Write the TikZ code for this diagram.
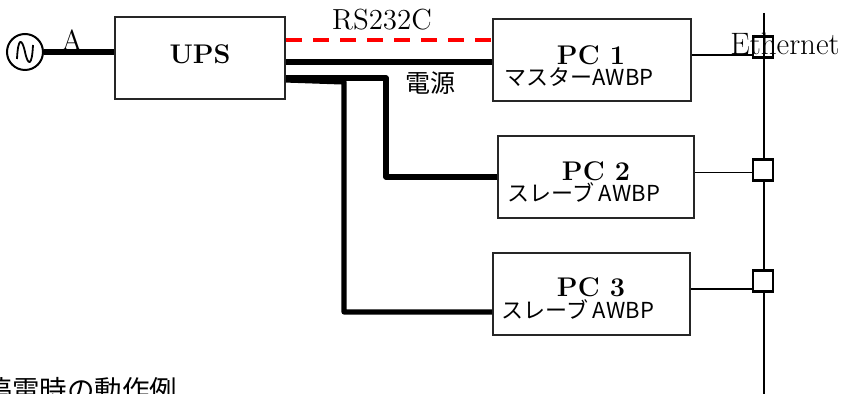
\documentclass[tikz,border=0pt]{standalone}
\usepackage{fontspec}
\newfontfamily\jpfont{Noto Sans CJK JP}
\usepackage{xcolor}
\usepackage{tikz}
\usetikzlibrary{calc}
\definecolor{ured}{HTML}{FF0000}
\tikzset{
  ubox/.style={draw=black!85, line width=1pt, fill=white, inner sep=0pt},
  utitle/.style={font=\fontsize{13.5}{15}\selectfont\bfseries, inner sep=0pt, anchor=base},
  ulbl/.style={font=\fontsize{14.5}{16}\selectfont, inner sep=0pt, anchor=base},
  usub/.style={font=\fontsize{11}{12}\jpfont, inner sep=0pt, anchor=base west},
  ujp/.style={font=\fontsize{12.5}{14}\jpfont, inner sep=0pt},
  upow/.style={line width=2.6pt, line join=round},
  urs/.style={ured, line width=2pt, dash pattern=on 8pt off 5.5pt},
  ulan/.style={line width=0.8pt},
  ubus/.style={line width=1pt},
  utap/.style={draw, line width=1.1pt, minimum width=10pt, minimum height=10.5pt, inner sep=0pt},
}
\begin{document}
\begin{tikzpicture}[x=0.5pt,y=-0.5pt]
  \useasboundingbox (0,0) rectangle (845,394);

  % 交流電源
  \node[circle, draw, line width=1pt, minimum size=18pt, inner sep=0pt] (ac) at (25,52) {};
  \draw[line width=0.9pt] ($(ac)+(-8,7)$) .. controls ($(ac)+(-7,-15)$) and ($(ac)+(-3,-14)$) .. ($(ac)+(0,0)$)
                           .. controls ($(ac)+(3,14)$) and ($(ac)+(7,15)$) .. ($(ac)+(8,-7)$);
  \node[ulbl] (lblA) at (72,51) {A};

  % UPS
  \node[ubox, minimum width=85pt, minimum height=41pt] (ups) at (200,58) {};
  \node[utitle] (upst) at (200,64) {UPS};
  \draw[upow] (ac.east) -- (ac.east -| ups.west);

  % PC
  \node[ubox, minimum width=99pt, minimum height=41pt] (pc1) at (592,60) {};
  \node[ubox, minimum width=98pt, minimum height=41pt] (pc2) at (596,177) {};
  \node[ubox, minimum width=98.5pt, minimum height=41pt] (pc3) at (591.5,294) {};
  \node[utitle] (pc1t) at (591,65) {PC 1};
  \node[usub] (pc1s) at (504,86) {マスターAWBP};
  \node[utitle] (pc2t) at (596,181) {PC 2};
  \node[usub] (pc2s) at (507,202) {スレーブ AWBP};
  \node[utitle] (pc3t) at (591,297) {PC 3};
  \node[usub] (pc3s) at (501,319) {スレーブ AWBP};

  % 電源ライン
  \draw[upow] (ups.east |- 0,62) -- (pc1.west |- 0,62);
  \draw[upow] (ups.east |- 0,78) -- (386,78) |- (pc2.west |- 0,177);
  \draw[upow] (ups.east |- 0,80) -- (344,82) |- (pc3.west |- 0,312);
  \node[ujp] (lblpow) at (430,83) {電源};

  % RS232C
  \draw[urs] (ups.east |- 0,40.5) -- (pc1.west |- 0,40.5);
  \node[ulbl] (lblrs) at (382,30) {RS232C};

  % Ethernet
  \coordinate (bustop) at (764,13);
  \coordinate (busend) at (764,400);
  \draw[ubus] (bustop) -- (busend);
  \node[utap] (tap1) at (763,47) {};
  \node[utap, fill=white] (tap2) at (763,170) {};
  \node[utap, fill=white] (tap3) at (763,281) {};
  \draw[ulan] (pc1.east |- 0,55) -- (tap1.west |- 0,55);
  \draw[ulan] (pc2.east |- 0,172.5) -- (tap2.west |- 0,172.5);
  \draw[ulan] (pc3.east |- 0,289) -- (tap3.west |- 0,289);
  \node[ulbl, font=\fontsize{15.5}{17}\selectfont] (lbleth) at (785,55) {Ethernet};

  % 見出し
  \node[ujp, font=\fontsize{13.75}{15}\jpfont, anchor=west] (cap) at (-15.5,390) {停電時の動作例};
\end{tikzpicture}
\end{document}
